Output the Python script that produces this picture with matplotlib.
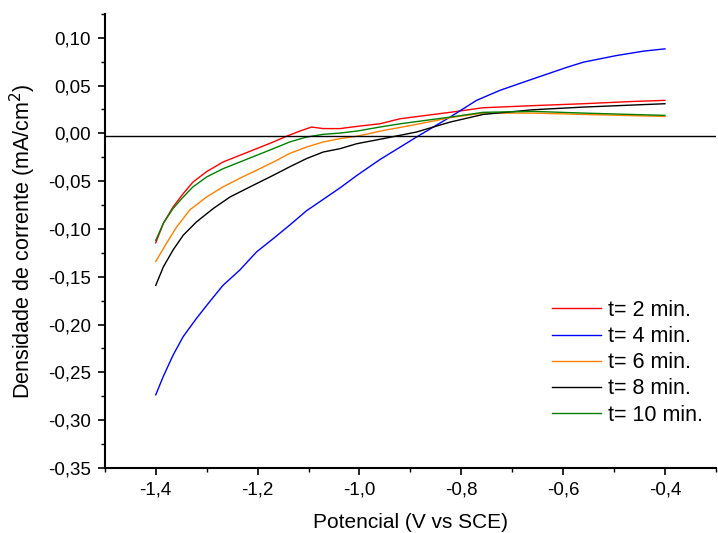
import matplotlib
matplotlib.use('Agg')
import matplotlib.pyplot as plt
from matplotlib.ticker import MultipleLocator, FuncFormatter

plt.rcParams['font.family'] = ['Liberation Sans', 'DejaVu Sans']

# t = 2 min
x_2 = [-1.400, -1.385, -1.366, -1.346, -1.327, -1.300, -1.268, -1.235, -1.202, -1.169, -1.143, -1.117, -1.094,
       -1.071, -1.038, -1.005, -0.960, -0.920, -0.822, -0.757, -0.659, -0.560, -0.462, -0.400]
y_2 = [-0.1145, -0.094, -0.077, -0.063, -0.051, -0.040, -0.030, -0.023, -0.016, -0.009, -0.003, 0.0024, 0.0066,
       0.005, 0.005, 0.0073, 0.010, 0.0153, 0.022, 0.0268, 0.029, 0.031, 0.0334, 0.0345]
# t = 4 min
x_4 = [-1.400, -1.385, -1.366, -1.346, -1.320, -1.294, -1.268, -1.235, -1.202, -1.169, -1.137, -1.104, -1.071,
       -1.038, -1.005, -0.960, -0.888, -0.822, -0.770, -0.724, -0.659, -0.626, -0.593, -0.560, -0.495, -0.442, -0.400]
y_4 = [-0.2735, -0.254, -0.232, -0.2125, -0.1935, -0.176, -0.159, -0.143, -0.124, -0.110, -0.096, -0.081, -0.069,
       -0.057, -0.044, -0.0275, -0.0039, 0.017, 0.0345, 0.045, 0.057, 0.063, 0.069, 0.0745, 0.0814, 0.086, 0.0884]
# t = 6 min
x_6 = [-1.400, -1.379, -1.359, -1.333, -1.300, -1.268, -1.235, -1.202, -1.169, -1.137, -1.104, -1.071, -1.038,
       -1.005, -0.953, -0.888, -0.822, -0.757, -0.659, -0.560, -0.400]
y_6 = [-0.134, -0.115, -0.098, -0.080, -0.0665, -0.056, -0.047, -0.0386, -0.030, -0.021, -0.0143, -0.009, -0.0055,
       -0.003, 0.003, 0.0094, 0.0164, 0.0212, 0.0212, 0.0198, 0.0177]
# t = 8 min
x_8 = [-1.400, -1.385, -1.366, -1.346, -1.320, -1.287, -1.254, -1.215, -1.169, -1.137, -1.104, -1.071, -1.038,
       -1.005, -0.953, -0.888, -0.822, -0.757, -0.659, -0.560, -0.400]
y_8 = [-0.159, -0.1396, -0.122, -0.1065, -0.0926, -0.0786, -0.0665, -0.056, -0.0438, -0.035, -0.0264, -0.0195,
       -0.016, -0.0108, -0.0055, 0.0014, 0.0118, 0.0198, 0.0247, 0.0275, 0.031]
# t = 10 min
x_10 = [-1.400, -1.385, -1.366, -1.346, -1.327, -1.300, -1.268, -1.235, -1.202, -1.169, -1.137, -1.104, -1.071,
        -1.038, -1.005, -0.960, -0.920, -0.822, -0.757, -0.659, -0.560, -0.400]
y_10 = [-0.112, -0.094, -0.0786, -0.0665, -0.056, -0.0456, -0.037, -0.030, -0.023, -0.016, -0.009, -0.0039, -0.001,
        0.0003, 0.0024, 0.0066, 0.010, 0.017, 0.022, 0.023, 0.0212, 0.0188]

series = [
    (x_2, y_2, '#ff0000', 't= 2 min.'),
    (x_4, y_4, '#0000ff', 't= 4 min.'),
    (x_6, y_6, '#ff8000', 't= 6 min.'),
    (x_8, y_8, '#000000', 't= 8 min.'),
    (x_10, y_10, '#008000', 't= 10 min.'),
]

fig = plt.figure(figsize=(7.18, 5.33), dpi=100)
ax = fig.add_axes([0.146, 0.122, 0.851, 0.852])

for xs, ys, c, lab in series:
    ax.plot(xs, ys, color=c, lw=1.0, label=lab)

ax.axhline(-0.003, color='black', lw=1.0)

ax.set_xlim(-1.5, -0.3)
ax.set_ylim(-0.35, 0.125)

ax.spines['top'].set_visible(False)
ax.spines['right'].set_visible(False)
ax.spines['left'].set_linewidth(1.5)
ax.spines['bottom'].set_linewidth(1.5)

ax.xaxis.set_major_locator(MultipleLocator(0.2))
ax.xaxis.set_minor_locator(MultipleLocator(0.1))
ax.yaxis.set_major_locator(MultipleLocator(0.05))
ax.yaxis.set_minor_locator(MultipleLocator(0.025))

ax.xaxis.set_major_formatter(FuncFormatter(lambda v, p: ('%.1f' % v).replace('.', ',')))
ax.yaxis.set_major_formatter(FuncFormatter(lambda v, p: ('%.2f' % v).replace('.', ',').replace('-0,00', '0,00')))

ax.tick_params(which='major', direction='out', length=5, width=1.2, labelsize=13.5, pad=5)
ax.tick_params(which='minor', direction='out', length=3, width=1.0)

ax.set_xlabel('Potencial (V vs SCE)', fontsize=15, labelpad=10)
ax.set_ylabel('Densidade de corrente (mA/cm$^2$)', fontsize=15.5, labelpad=7)

ax.legend(loc='lower right', bbox_to_anchor=(1.0, 0.065), frameon=False, fontsize=15.5,
          handlelength=2.3, handletextpad=0.3, labelspacing=0.24, borderaxespad=0.2)

fig.savefig('out.png', dpi=100)
